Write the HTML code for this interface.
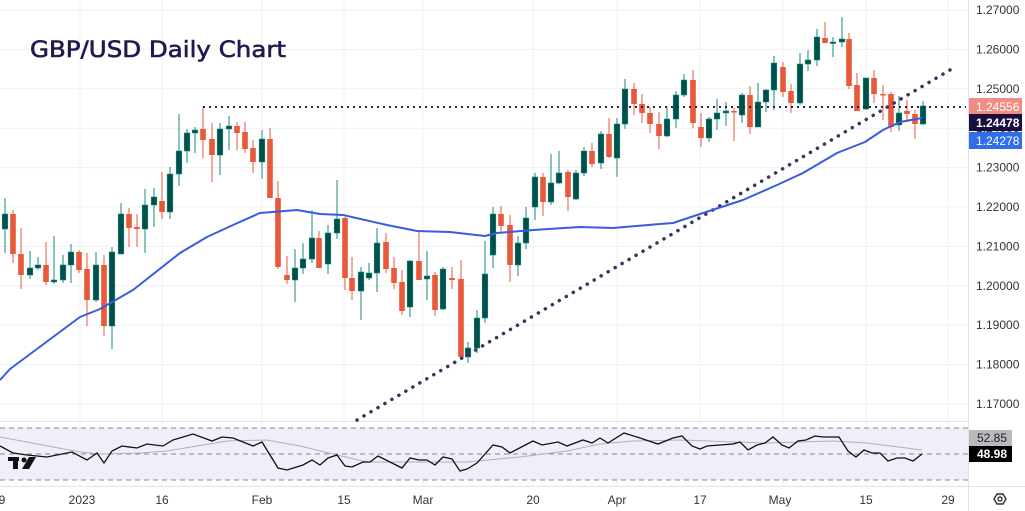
<!DOCTYPE html>
<html><head><meta charset="utf-8"><style>
html,body{margin:0;padding:0;background:#fff;}
svg{display:block;font-family:"Liberation Sans",sans-serif;}
</style></head><body>
<svg id="s" width="1025" height="511" xmlns="http://www.w3.org/2000/svg">
<rect width="1025" height="511" fill="#fff"/>
<g id="grid" stroke="#f0f0f3" stroke-width="1"></g>
<rect x="0" y="428" width="968" height="52" fill="#f1eef9"/>
<g stroke="#888" stroke-dasharray="5,4" stroke-width="1">
<line x1="0" y1="428" x2="968" y2="428"/><line x1="0" y1="454" x2="968" y2="454"/><line x1="0" y1="480" x2="968" y2="480"/></g>
<line x1="0" y1="421.5" x2="968" y2="421.5" stroke="#e0e3eb"/>
<line x1="0" y1="486.5" x2="1025" y2="486.5" stroke="#e0e3eb"/>
<line x1="968.5" y1="0" x2="968.5" y2="511" stroke="#e0e3eb"/>
<g id="c"></g>
<line x1="203" y1="107" x2="966" y2="107" stroke="#2a2440" stroke-width="2" stroke-dasharray="2,4"/>
<line x1="357" y1="420" x2="950" y2="70" stroke="#3a3560" stroke-width="3.5" stroke-dasharray="0.1,8" stroke-linecap="round"/>
<polyline fill="none" stroke="#3b5be0" stroke-width="2" stroke-linejoin="round" points="0,380 10,369 80,317 100,309 133,290 180,253 207,237 233,225 260,213 297,210 320,214 343,215 387,225 417,231 450,232 485,236 497,233 533,230 580,227 613,228 660,224 673,223 700,214 743,200 777,185 803,173 837,153 865,142 883,130 900,122 922,118"/>
<polyline fill="none" stroke="#b0b0b8" stroke-width="1" points="0,437 80,452 100,454 140,453 167,451 227,441 267,440 300,446 333,454 367,462 400,462 467,462 520,457 567,451 600,444 633,441 683,440 733,442 767,443 833,441 867,443 922,450"/>
<polyline fill="none" stroke="#111" stroke-width="1.3" points="0,446 13,453 27,455 47,457 72,452 87,460 97,453 104,463 112,451 122,446 137,448 147,444 163,446 173,440 193,434 212,441 222,437 233,438 253,446 262,442 278,468 287,470 303,465 312,460 320,465 328,458 337,455 345,466 352,467 363,462 370,462 378,456 390,462 402,468 410,458 419,460 427,460 435,465 443,457 452,459 460,471 467,469 477,463 493,445 502,447 510,453 533,441 542,445 558,442 567,446 583,440 592,443 600,438 608,443 624,433 640,438 658,444 673,438 682,436 692,446 700,449 707,446 733,444 740,442 748,450 757,445 765,443 773,437 782,445 789,448 798,441 806,440 815,436 823,437 839,437 848,451 856,457 864,450 872,453 880,453 888,461 897,458 905,458 913,461 922,454"/>
<g fill="#111"><rect x="8" y="457" width="11" height="4"/><rect x="13" y="457" width="5" height="12"/><circle cx="24" cy="460" r="2.5"/><polygon points="29,457 36,457 29,469 22,469"/></g>
<text x="30" y="57" font-family="'DejaVu Sans',sans-serif" font-size="22" fill="#24164f" stroke="#24164f" stroke-width="0.6" textLength="256" lengthAdjust="spacingAndGlyphs">GBP/USD Daily Chart</text>
<g id="pl" font-size="12" fill="#333"></g>
<rect x="969" y="98" width="53" height="17" fill="#f28b82"/><text x="976" y="111" font-size="12" fill="#fff">1.24556</text>
<rect x="969" y="114" width="53" height="17" fill="#1a0d3f"/><text x="976" y="127" font-size="12" fill="#fff" font-weight="bold">1.24478</text>
<rect x="969" y="132" width="53" height="17" fill="#2f6ee8"/><text x="976" y="145" font-size="12" fill="#fff">1.24278</text>
<rect x="969" y="430" width="43" height="16" fill="#b9b9be"/><text x="977" y="442" font-size="12" fill="#222">52.85</text>
<rect x="969" y="446" width="43" height="16" fill="#000"/><text x="977" y="458" font-size="12" fill="#fff" font-weight="bold">48.98</text>
<g font-size="12" fill="#333" text-anchor="middle">
<text x="2" y="504">9</text><text x="82" y="504">2023</text><text x="162" y="504">16</text><text x="262" y="504">Feb</text><text x="344" y="504">15</text><text x="423" y="504">Mar</text><text x="533" y="504">20</text><text x="617" y="504">Apr</text><text x="700" y="504">17</text><text x="780" y="504">May</text><text x="866" y="504">15</text><text x="948" y="504">29</text></g>
<g fill="none" stroke="#333" stroke-width="1.4"><polygon points="994,499 997,494 1003,494 1006,499 1003,504 997,504"/><circle cx="1000" cy="499" r="2"/></g>
</svg>
<script>
var NS="http://www.w3.org/2000/svg";
function el(p,t,a){var e=document.createElementNS(NS,t);for(var k in a)e.setAttribute(k,a[k]);p.appendChild(e);return e;}
var g=document.getElementById('grid'),pl=document.getElementById('pl');
for(var i=0;i<11;i++){var y=10+i*39.4;el(g,'line',{x1:0,y1:y,x2:968,y2:y});var t=el(pl,'text',{x:976,y:y+4});t.textContent=(1.27-i*0.01).toFixed(5);}
[80,162,262,344,423,533,617,700,783,866,948].forEach(function(x){el(g,'line',{x1:x,y1:0,x2:x,y2:486});});
var d=[[5,214,229,198,253,1],[13,214,254,210,263,0],[21,254,275,228,289,0],[30,268,275,251,279,1],[38,265,268,257,270,1],[46,265,282,242,285,0],[54,280,282,236,284,1],[63,265,280,255,283,1],[71,252,265,244,283,1],[79,252,270,250,273,0],[87,269,300,253,326,0],[96,265,300,252,302,1],[104,265,326,255,336,0],[112,252,326,247,349,1],[121,214,254,203,254,1],[129,214,228,208,247,0],[137,227,229,214,247,0],[145,205,229,189,253,1],[154,197,205,188,227,1],[162,201,212,172,219,0],[170,174,212,167,219,1],[179,151,174,114,186,1],[187,133,151,129,163,1],[195,130,133,127,153,1],[203,129,140,107,158,0],[212,139,155,123,182,0],[220,129,155,123,175,1],[229,126,129,116,150,1],[237,126,133,122,150,0],[245,132,149,122,153,0],[253,148,162,140,173,0],[262,139,162,130,179,1],[270,139,198,128,198,0],[278,198,267,181,269,0],[287,275,280,256,284,0],[295,268,280,249,302,1],[303,259,268,243,274,1],[312,238,259,210,263,1],[319,238,268,231,268,0],[328,233,264,225,274,1],[337,219,233,180,239,1],[345,218,278,217,290,0],[352,278,291,257,300,0],[361,272,291,267,320,1],[369,273,278,263,280,1],[377,243,273,228,292,1],[386,242,269,233,273,0],[394,268,283,257,289,0],[402,282,311,270,315,0],[410,261,307,260,317,1],[419,261,280,232,280,0],[427,276,279,251,300,1],[435,275,310,272,316,0],[443,269,309,267,310,1],[452,278,280,267,289,0],[461,279,357,260,360,0],[468,348,357,342,363,1],[477,318,348,310,353,1],[485,274,318,241,323,1],[493,214,255,207,268,1],[501,214,226,206,233,0],[510,225,265,215,282,0],[518,243,265,236,276,1],[526,218,243,207,249,1],[535,177,207,173,220,1],[543,177,202,173,216,0],[551,183,202,154,205,1],[559,173,183,151,184,1],[568,172,197,170,211,0],[576,173,199,170,200,1],[584,151,173,147,176,1],[592,151,164,143,167,0],[601,134,163,131,169,1],[609,134,157,118,158,0],[617,124,158,118,177,1],[625,89,124,79,129,1],[634,89,104,83,115,0],[642,104,113,94,123,0],[650,113,124,107,133,0],[659,124,136,112,149,0],[667,119,136,107,137,1],[676,95,119,91,128,1],[684,80,95,74,97,1],[693,80,123,70,128,0],[701,127,138,113,147,0],[709,119,138,117,142,1],[717,113,119,99,130,1],[726,111,113,102,126,1],[734,111,112,108,141,0],[742,95,115,93,123,1],[750,95,127,86,134,0],[758,102,127,83,127,1],[766,90,102,89,112,1],[774,63,90,56,110,1],[783,67,92,62,97,0],[791,91,103,84,113,0],[800,64,103,53,105,1],[808,60,64,50,71,1],[817,37,60,29,66,1],[825,38,43,22,43,0],[833,42,43,37,57,1],[842,39,42,17,47,1],[849,39,86,33,89,0],[857,85,111,73,111,0],[866,78,109,78,110,1],[874,78,94,70,103,0],[883,94,95,85,120,0],[891,94,127,92,132,0],[899,113,125,96,131,1],[907,111,114,100,122,0],[915,114,124,110,139,0],[923,106,124,101,125,1]];
var c=document.getElementById('c');
d.forEach(function(k){var up=k[5];var wc=up?'#1a8a80':'#e8583a',bc=up?'#004f4a':'#e8583a';
el(c,'line',{x1:k[0],y1:k[3],x2:k[0],y2:k[4],stroke:wc,'stroke-width':1});
el(c,'rect',{x:k[0]-2.8,y:k[1],width:5.6,height:Math.max(1.5,k[2]-k[1]),fill:bc,stroke:up?'#1a8a80':'none','stroke-width':0.6});});
</script>
</body></html>
